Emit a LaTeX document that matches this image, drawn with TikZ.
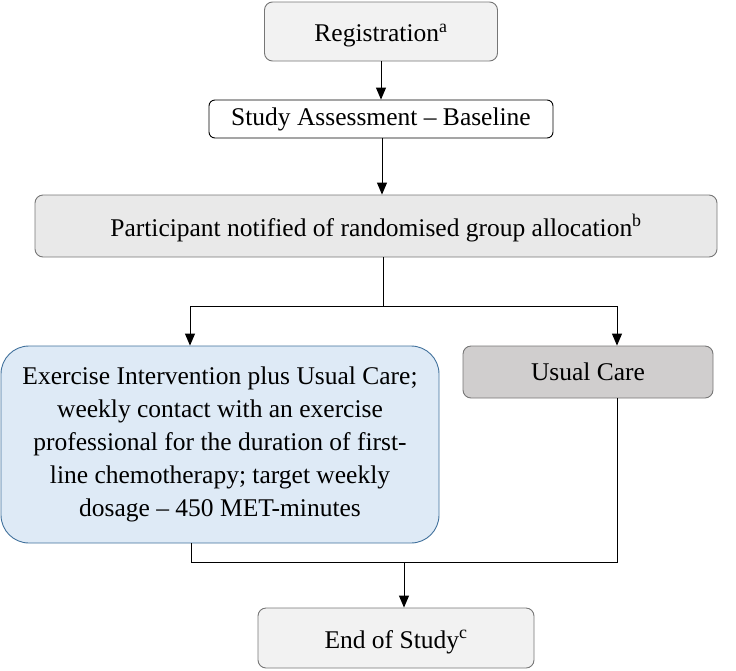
\documentclass[tikz,border=0pt]{standalone}
\usepackage{fontspec}
\setmainfont{Liberation Serif}
\usepackage{tikz}
\usetikzlibrary{arrows.meta}

\definecolor{boxgray}{RGB}{242,242,242}
\definecolor{partgray}{RGB}{233,233,233}
\definecolor{caregray}{RGB}{208,206,206}
\definecolor{edgegray}{RGB}{118,118,118}
\definecolor{exfill}{RGB}{222,234,246}
\definecolor{exedge}{RGB}{65,113,156}

\tikzset{
	stage/.style={draw=edgegray, fill=boxgray, rounded corners=8pt, line width=0.9pt,
		align=center, inner sep=0pt, font=\fontsize{25.5}{33}\selectfont},
	lowtext/.style={text height=26pt, text depth=6pt},
	arr/.style={line width=1pt, -{Triangle[width=10pt,length=12pt]}},
	ln/.style={line width=1pt}
}

\begin{document}
\begin{tikzpicture}[x=1pt, y={(0pt,-1pt)}]

	\useasboundingbox (0,0) rectangle (736,670);

	\node[stage, lowtext, minimum width=233pt, minimum height=59pt] (reg) at (381,31.5) {Registration\textsuperscript{a}};
	\node[stage, fill=white, draw=black, rounded corners=6pt, minimum width=344pt, minimum height=38pt] (assess) at (381,119) {Study Assessment -- Baseline};
	\node[stage, lowtext, fill=partgray, minimum width=682pt, minimum height=62pt] (notify) at (376,226) {Participant notified of randomised group allocation\textsuperscript{b}};

	\node[stage, fill=exfill, draw=exedge, rounded corners=28pt, minimum width=438pt, minimum height=197pt] (exer) at (220,444.5)
		{Exercise Intervention plus Usual Care;\\ weekly contact with an exercise\\ professional for the duration of first-\\ line chemotherapy; target weekly\\ dosage -- 450 MET-minutes};
	\node[stage, fill=caregray, minimum width=250pt, minimum height=52pt] (usual) at (588,372) {Usual Care};

	\node[stage, lowtext, minimum width=276pt, minimum height=60pt] (end) at (396,638) {End of Study\textsuperscript{c}};

	\coordinate (split) at (383,306);
	\coordinate (join) at (404,562);

	\draw[arr] (reg.south -| assess.north) -- (assess.north);
	\draw[arr] ([xshift=1pt]assess.south) -- ([xshift=1pt]assess.south |- notify.north);
	\draw[ln] (notify.south -| split) -- (split);
	\draw[arr] (split) -| ([xshift=-30pt]exer.north);
	\draw[arr] (split) -| ([xshift=29pt]usual.north);

	\draw[ln] ([xshift=-29pt]exer.south) |- (join);
	\draw[ln] ([xshift=29pt]usual.south) |- (join);
	\draw[arr] (join) -- (join |- end.north);

\end{tikzpicture}
\end{document}
